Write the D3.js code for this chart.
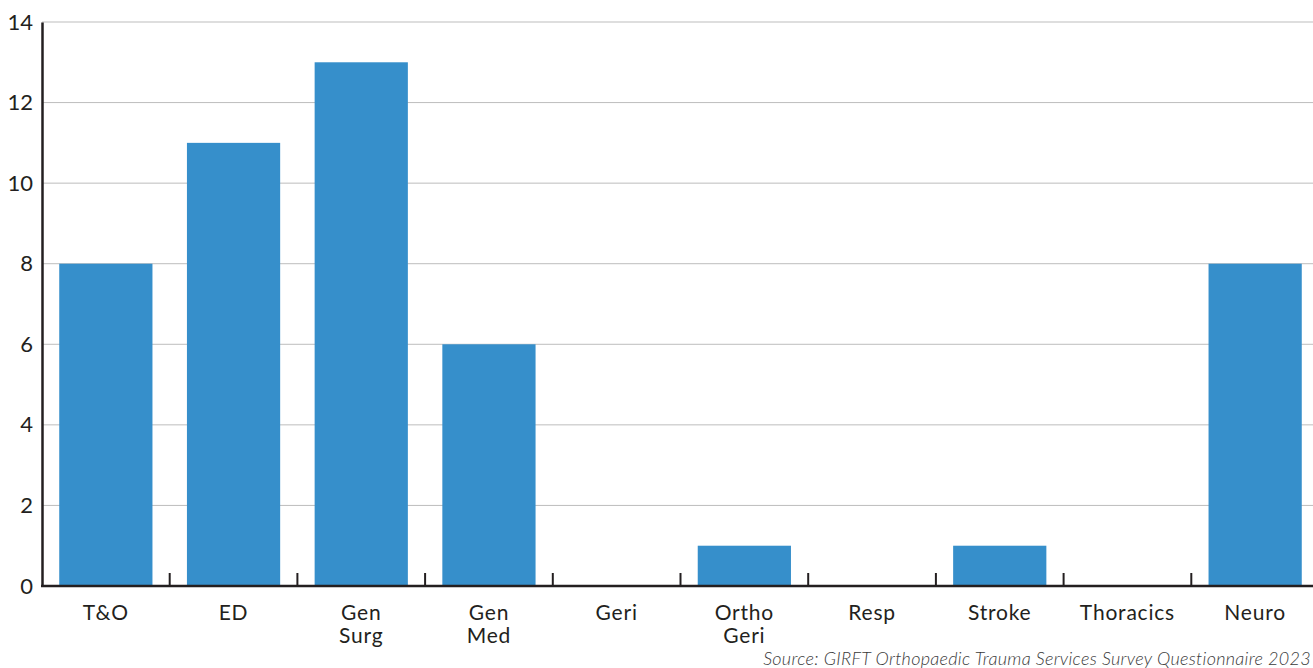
<!DOCTYPE html>
<html>
<head>
<meta charset="utf-8">
<script src="https://cdn.jsdelivr.net/npm/d3@7"></script>
<style>
  html, body { margin: 0; padding: 0; background: #fff; }
  svg { display: block; font-family: Lato, "Open Sans", sans-serif; }
</style>
</head>
<body>
<svg id="chart" width="1313" height="668"></svg>
<script>
// Specialties and counts
const categories = ["T&O", "ED", "Gen Surg", "Gen Med", "Geri", "Ortho Geri", "Resp", "Stroke", "Thoracics", "Neuro"];
const categoryLines = [["T&O"], ["ED"], ["Gen", "Surg"], ["Gen", "Med"], ["Geri"], ["Ortho", "Geri"], ["Resp"], ["Stroke"], ["Thoracics"], ["Neuro"]];
const values = [8, 11, 13, 6, 0, 1, 0, 1, 0, 8];
const yTicks = [0, 2, 4, 6, 8, 10, 12, 14];
const sourceText = "Source: GIRFT Orthopaedic Trauma Services Survey Questionnaire 2023";

const svg = d3.select("#chart");
const plotLeft = 42, plotTop = 22, plotBottom = 586, plotRight = 1319;

const x = d3.scaleBand().domain(categories).range([plotLeft, plotRight]).paddingInner(0.27).paddingOuter(0.135);
const y = d3.scaleLinear().domain([0, 14]).range([plotBottom, plotTop]);

// Gridlines
svg.append("g").selectAll("line").data(yTicks.filter(d => d > 0)).join("line")
  .attr("x1", plotLeft).attr("x2", 1313)
  .attr("y1", d => y(d)).attr("y2", d => y(d))
  .attr("stroke", "#bdbdbd").attr("stroke-width", 1);

// Bars
svg.append("g").selectAll("rect").data(values).join("rect")
  .attr("x", (d, i) => x(categories[i]))
  .attr("width", x.bandwidth())
  .attr("y", d => y(d))
  .attr("height", d => plotBottom - y(d))
  .attr("fill", "#368fcb");

// Y axis
const yAxis = svg.append("g").attr("transform", `translate(${plotLeft},0)`)
  .call(d3.axisLeft(y).tickValues(yTicks).tickSize(0).tickPadding(9));
yAxis.select(".domain").attr("stroke", "#231f20").attr("stroke-width", 2.5);
yAxis.selectAll("text").attr("font-size", 22).attr("fill", "#231f20")
  .attr("font-family", "Lato, sans-serif");

// X axis baseline and band separators
const boundaries = categories.slice(1).map(c => x(c) - x.step() * x.paddingInner() / 2);
svg.append("line").attr("x1", plotLeft - 1).attr("x2", 1313).attr("y1", plotBottom).attr("y2", plotBottom)
  .attr("stroke", "#231f20").attr("stroke-width", 2.5);
svg.append("g").selectAll("line").data(boundaries).join("line")
  .attr("x1", d => d).attr("x2", d => d)
  .attr("y1", plotBottom).attr("y2", plotBottom - 13)
  .attr("stroke", "#231f20").attr("stroke-width", 2);

// Category labels
const lab = svg.append("g").selectAll("text").data(categories).join("text")
  .attr("x", d => x(d) + x.bandwidth() / 2)
  .attr("y", 620)
  .attr("text-anchor", "middle")
  .attr("font-size", 21).attr("letter-spacing", 0.8).attr("fill", "#231f20");
lab.each(function(d, i) {
  d3.select(this).selectAll("tspan").data(categoryLines[i]).join("tspan")
    .attr("x", x(d) + x.bandwidth() / 2)
    .attr("dy", (t, j) => j === 0 ? 0 : 23)
    .text(t => t);
});

// Source note, right-aligned to the chart edge
svg.append("text").attr("x", 1311).attr("y", 665)
  .attr("text-anchor", "end")
  .attr("font-size", 18).attr("letter-spacing", 0.3).attr("font-style", "italic").attr("font-weight", 300)
  .attr("fill", "#3a3a3a").text(sourceText);
</script>
</body>
</html>
